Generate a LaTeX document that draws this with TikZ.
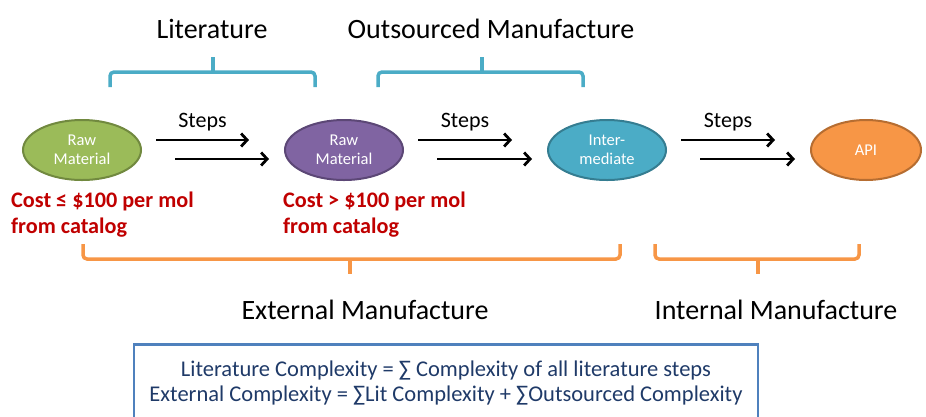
\documentclass[tikz,border=0pt]{standalone}
\usepackage{fontspec}
\setmainfont{Carlito}
\usepackage{tikz}
\usetikzlibrary{arrows.meta,shapes.geometric}

\definecolor{rawgreen}{HTML}{9BBB59}
\definecolor{rawgreenline}{HTML}{71893F}
\definecolor{rawpurple}{HTML}{8064A2}
\definecolor{rawpurpleline}{HTML}{5C4776}
\definecolor{interteal}{HTML}{4BACC6}
\definecolor{intertealline}{HTML}{357D91}
\definecolor{apiorange}{HTML}{F79646}
\definecolor{apiorangeline}{HTML}{B66D31}
\definecolor{bracketblue}{HTML}{4BACC6}
\definecolor{bracketorange}{HTML}{F79646}
\definecolor{costred}{HTML}{C00000}
\definecolor{boxblue}{HTML}{4F81BD}
\definecolor{boxtext}{HTML}{1F3A68}

\begin{document}
\begin{tikzpicture}[x=1pt,y=-1pt,
  stage/.style={ellipse,draw,line width=2pt,minimum width=118pt,minimum height=60pt,
    inner sep=0pt,text=white,align=center,font=\fontsize{16.5}{18.5}\selectfont},
  stepline/.style={line width=2.8pt,-{Straight Barb[length=6pt,width=13pt]}},
  steplabel/.style={midway,above=4pt,font=\fontsize{22}{26}\selectfont},
  cost/.style={anchor=north west,inner sep=0pt,align=left,text=costred,
    font=\fontsize{22.2}{26}\selectfont\bfseries},
  title/.style={anchor=base,inner sep=0pt,font=\fontsize{28}{32}\selectfont},
  topbracket/.style={draw=bracketblue,line width=3.5pt,rounded corners=4pt},
  lowbracket/.style={draw=bracketorange,line width=3.5pt,rounded corners=4pt},
  formula/.style={draw=boxblue,line width=2.5pt,anchor=north,minimum width=624pt,
    minimum height=78pt,align=center,text=boxtext,font=\fontsize{22.5}{25}\selectfont}]
\useasboundingbox (0,0) rectangle (926,416);

\node[stage,fill=rawgreen,draw=rawgreenline] (m1) at (82,150) {Raw\\Material};
\node[stage,fill=rawpurple,draw=rawpurpleline] (m2) at (344,150) {Raw\\Material};
\node[stage,fill=interteal,draw=intertealline] (m3) at (607,150) {Inter-\\mediate};
\node[stage,fill=apiorange,draw=apiorangeline,minimum width=110pt] (m4) at (866,150) {API};

\draw[stepline] ([xshift=14pt,yshift=10pt]m1.east) -- ([xshift=-35pt,yshift=10pt]m2.west)
  node[steplabel] (s1) {Steps};
\draw[stepline] ([xshift=33pt,yshift=-9pt]m1.east) -- ([xshift=-15pt,yshift=-9pt]m2.west);
\draw[stepline] ([xshift=14pt,yshift=10pt]m2.east) -- ([xshift=-35pt,yshift=10pt]m3.west)
  node[steplabel] (s2) {Steps};
\draw[stepline] ([xshift=33pt,yshift=-9pt]m2.east) -- ([xshift=-15pt,yshift=-9pt]m3.west);
\draw[stepline] ([xshift=14pt,yshift=10pt]m3.east) -- ([xshift=-35pt,yshift=10pt]m4.west)
  node[steplabel] (s3) {Steps};
\draw[stepline] ([xshift=33pt,yshift=-9pt]m3.east) -- ([xshift=-15pt,yshift=-9pt]m4.west);

\node[cost] (c1) at (11,192) {Cost ≤ \$100 per mol\\from catalog};
\node[cost] (c2) at (283,192) {Cost > \$100 per mol\\from catalog};

\draw[topbracket] (110,87) |- (315,72) -- (315,87);
\draw[topbracket] (213,73) -- (213,57);
\draw[topbracket] (378,87) |- (583,72) -- (583,87);
\draw[topbracket] (482,73) -- (482,57);
\node[title] (t1) at (212,38) {Literature};
\node[title] (t2) at (491,38) {Outsourced Manufacture};

\draw[lowbracket] (83,244) |- (620,259) -- (620,244);
\draw[lowbracket] (350,258) -- (350,274);
\draw[lowbracket] (655,244) |- (859,259) -- (859,244);
\draw[lowbracket] (758,258) -- (758,274);
\node[title] (t3) at (365,319) {External Manufacture};
\node[title] (t4) at (776,319) {Internal Manufacture};

\node[formula] (f) at (446,343) {Literature Complexity = ∑ Complexity of all literature steps\\
  External Complexity = ∑Lit Complexity + ∑Outsourced Complexity};
\end{tikzpicture}
\end{document}
